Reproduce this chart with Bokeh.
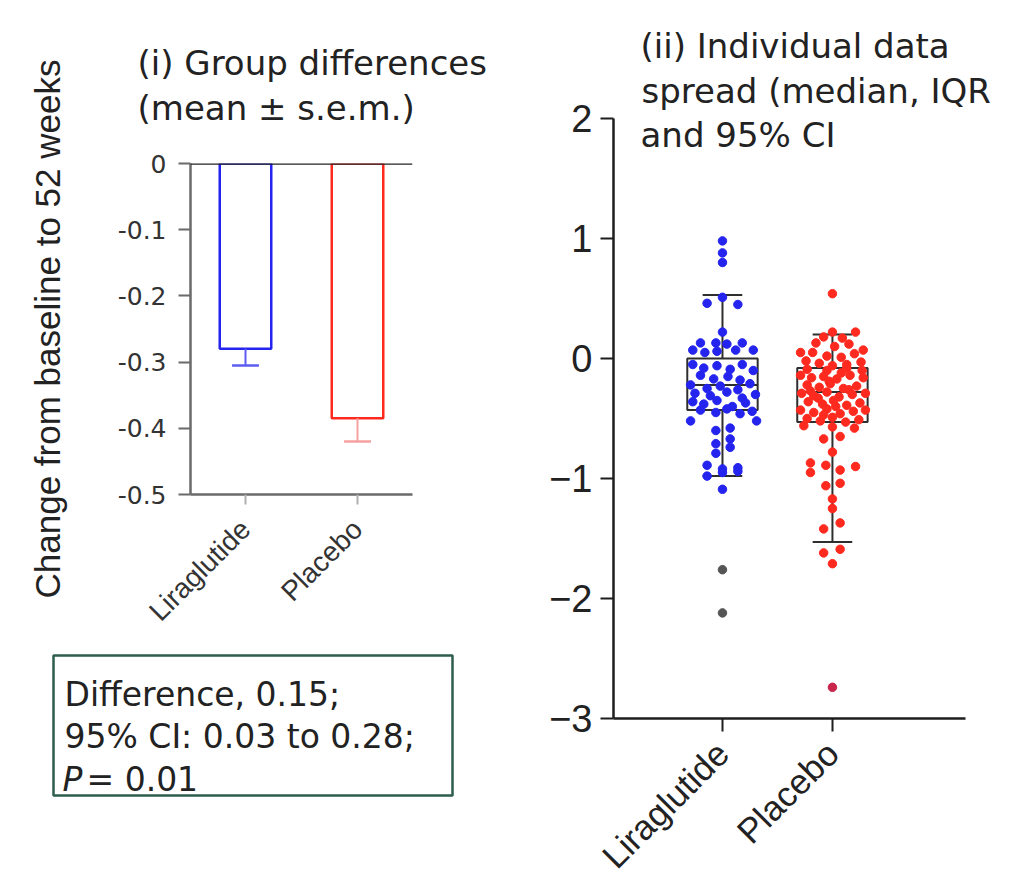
import math
from bokeh.plotting import figure
from bokeh.models import Range1d, FixedTicker, Label, BoxAnnotation, Span, Title
from bokeh.layouts import row, column
from bokeh.embed import file_html
from bokeh.resources import INLINE

# ---------------- data ----------------
groups = ["Liraglutide", "Placebo"]
group_pos = [1, 2]

# panel (i): mean +/- s.e.m.
mean_change = [-0.28, -0.385]
sem_change = [0.025, 0.035]
left_yticks = [0, -0.1, -0.2, -0.3, -0.4, -0.5]
left_ytick_labels = ["0", "-0.1", "-0.2", "-0.3", "-0.4", "-0.5"]

# panel (ii): individual values (value, horizontal jitter in category units)
lira_values = [0.98, 0.88, 0.80, 0.51, 0.46, 0.45, 0.22,
               0.13, 0.13, 0.12, 0.13, 0.07, 0.05, 0.06, 0.07, 0.07,
               -0.05, -0.08, -0.06, -0.09, -0.05, -0.10,
               -0.14, -0.17, -0.15, -0.18,
               -0.22, -0.25, -0.23, -0.26, -0.21,
               -0.29, -0.31, -0.28, -0.33, -0.30,
               -0.36, -0.38, -0.35, -0.40, -0.37,
               -0.43, -0.45, -0.42, -0.46, -0.44,
               -0.52, -0.52, -0.60, -0.58, -0.67, -0.71, -0.74, -0.79,
               -0.89, -0.92, -0.91, -0.98, -0.95, -0.94, -1.09]
lira_jitter = [0.0, 0.0, 0.0, 0.0, -0.14, 0.14, 0.0,
               -0.20, -0.06, 0.04, 0.18, -0.27, -0.16, -0.05, 0.12, 0.28,
               -0.27, -0.17, -0.05, 0.07, 0.18, 0.28,
               -0.20, -0.08, 0.05, 0.16,
               -0.29, -0.14, -0.02, 0.14, 0.25,
               -0.25, -0.11, 0.04, 0.18, 0.30,
               -0.27, -0.17, -0.05, 0.09, 0.21,
               -0.20, -0.06, 0.04, 0.16, 0.27,
               -0.29, 0.31, -0.06, 0.07, 0.07, -0.06, 0.07, -0.06,
               -0.14, 0.0, 0.14, -0.14, 0.0, 0.14, 0.0]
lira_outliers = [-1.76, -2.12]

placebo_values = [0.54,
                  0.22, 0.22, 0.18, 0.17, 0.13, 0.12, 0.10, 0.07, 0.05, 0.05, 0.04,
                  0.02, 0.01, -0.02, -0.03, -0.04, -0.05, -0.06,
                  -0.09, -0.10, -0.08, -0.10,
                  -0.14, -0.16, -0.15, -0.17, -0.14, -0.16,
                  -0.22, -0.24, -0.21, -0.25, -0.23,
                  -0.29, -0.31, -0.28, -0.32, -0.30, -0.29,
                  -0.36, -0.38, -0.35, -0.39, -0.37,
                  -0.43, -0.45, -0.42, -0.46, -0.44, -0.43,
                  -0.50, -0.52, -0.49, -0.53, -0.51,
                  -0.19, -0.26, -0.33, -0.40, -0.47, -0.12, -0.27,
                  -0.56, -0.57, -0.58, -0.67, -0.65, -0.78,
                  -0.87, -0.89, -0.90, -0.93, -0.95, -1.06, -1.04,
                  -1.17, -1.25, -1.37, -1.42, -1.62, -1.59, -1.71]
placebo_jitter = [0.0,
                  0.0, 0.21, -0.08, 0.09, -0.15, 0.15, 0.02, 0.28, -0.29, -0.18, 0.20,
                  -0.05, 0.08, -0.24, 0.26, -0.12, 0.13, 0.0,
                  -0.23, -0.05, 0.13, 0.27,
                  -0.29, -0.19, -0.08, 0.04, 0.16, 0.28,
                  -0.23, -0.12, -0.02, 0.10, 0.22,
                  -0.28, -0.17, -0.05, 0.06, 0.18, 0.30,
                  -0.22, -0.09, 0.01, 0.13, 0.25,
                  -0.29, -0.17, -0.05, 0.07, 0.19, 0.30,
                  -0.23, -0.11, 0.0, 0.12, 0.24,
                  -0.03, 0.15, -0.13, 0.03, -0.08, 0.08, -0.20,
                  -0.26, 0.0, 0.20, -0.08, 0.07, 0.0,
                  -0.20, -0.06, 0.21, 0.07, -0.20, -0.06, 0.07,
                  0.0, 0.0, 0.07, -0.08, -0.08, 0.07, 0.0]
placebo_outliers = [-2.74]

box_q1 = [-0.43, -0.53]
box_median = [-0.22, -0.28]
box_q3 = [0.0, -0.08]
whisker_low = [-0.98, -1.53]
whisker_high = [0.53, 0.20]
right_yticks = [-3, -2, -1, 0, 1, 2]
right_ytick_labels = ["\u22123", "\u22122", "\u22121", "0", "1", "2"]

BLUE = "#2424ee"
RED = "#ff2a1f"
TXT = "#222222"
TITLE_FONT = "DejaVu Sans"


def style_fig(p):
    p.background_fill_color = "white"
    p.border_fill_color = "white"
    p.outline_line_color = None
    p.grid.visible = False


def add_label(p, x, y, text, size, font=TITLE_FONT, align="left",
              baseline="alphabetic", angle=0.0, style="normal", color=TXT):
    p.add_layout(Label(x=x, y=y, text=text, text_font=font,
                       text_font_size=f"{size}px", text_align=align,
                       text_baseline=baseline, angle=angle,
                       text_font_style=style, text_color=color))


# ---------------- panel (i): bar chart ----------------
W1, H1 = 520, 640
L1, R1, T1, B1 = 190, 412, 163, 498

p1 = figure(width=W1, height=H1, x_range=Range1d(0.509, 2.491), y_range=Range1d(-0.5, 0.0),
            output_backend="svg", toolbar_location=None, frame_align=False,
            min_border_left=L1, min_border_right=W1 - R1,
            min_border_top=T1, min_border_bottom=H1 - B1)
style_fig(p1)

bar_cols = [BLUE, RED]
err_cols = ["#5c5cf2", "#f6a0a0"]
p1.vbar(x=group_pos, top=[0, 0], bottom=mean_change, width=0.46,
        fill_color=None, line_color=bar_cols, line_width=2.5)
err_lo = [m - s for m, s in zip(mean_change, sem_change)]
p1.segment(x0=group_pos, y0=mean_change, x1=group_pos, y1=err_lo,
           line_color=err_cols, line_width=2)
p1.segment(x0=[g - 0.12 for g in group_pos], y0=err_lo,
           x1=[g + 0.12 for g in group_pos], y1=err_lo,
           line_color=err_cols, line_width=2.5)
p1.add_layout(Span(location=0, dimension="width", line_color="#222222", line_width=2.5))

for ax in (p1.xaxis[0], p1.yaxis[0]):
    ax.axis_line_color = "#6a6a6a"
    ax.axis_line_width = 2.5
    ax.major_tick_line_color = "#6a6a6a"
    ax.major_tick_line_width = 2
    ax.minor_tick_line_color = None
    ax.major_tick_in = 0
    ax.major_label_text_color = "#333333"

p1.yaxis.ticker = FixedTicker(ticks=left_yticks)
p1.yaxis.major_label_overrides = dict(zip(left_yticks, left_ytick_labels))
p1.yaxis.major_tick_out = 12
p1.yaxis.major_label_standoff = 12
p1.yaxis.major_label_text_font = "DejaVu Sans"
p1.yaxis.major_label_text_font_size = "25px"
p1.yaxis.axis_label = "Change from baseline to 52 weeks"
p1.yaxis.axis_label_text_font = "Liberation Sans"
p1.yaxis.axis_label_text_font_size = "35px"
p1.yaxis.axis_label_text_font_style = "normal"
p1.yaxis.axis_label_text_color = TXT
p1.yaxis.axis_label_standoff = 48

p1.xaxis.ticker = FixedTicker(ticks=group_pos)
p1.xaxis.major_label_overrides = dict(zip(group_pos, groups))
p1.xaxis.major_label_orientation = math.pi / 4
p1.xaxis.major_tick_out = 10
p1.xaxis.major_tick_line_color = "#b0b0b0"
p1.xaxis.major_label_standoff = 20
p1.xaxis.major_label_text_font = "Liberation Sans"
p1.xaxis.major_label_text_font_size = "28px"

# panel title (two lines)
p1.add_layout(Title(text="(i) Group differences\n(mean \u00b1 s.e.m.)", align="left",
                    offset=-53, standoff=70, text_line_height=1.13,
                    text_font=TITLE_FONT, text_font_size="34px",
                    text_font_style="normal", text_color=TXT), "above")

# ---------------- statistics box (text area below panel i) ----------------
W3, H3 = 520, 256
TOP3 = 640
pt = figure(width=W3, height=H3, x_range=Range1d(0, W3), y_range=Range1d(TOP3 + H3, TOP3),
            output_backend="svg", toolbar_location=None, frame_align=False,
            x_axis_location=None, y_axis_location=None,
            min_border_left=0, min_border_right=0, min_border_top=0, min_border_bottom=0)
style_fig(pt)
pt.add_layout(BoxAnnotation(left=53, right=452, top=655, bottom=795,
                            fill_color=None, fill_alpha=0, line_color="#2e5c4d",
                            line_alpha=1.0, line_width=2.5))
add_label(pt, 64, 694, "Difference, 0.15;", 33)
add_label(pt, 64, 736, "95% CI: 0.03 to 0.28;", 33)
add_label(pt, 62, 779, "P", 33, style="italic")
add_label(pt, 86, 779, "= 0.01", 33)

# ---------------- panel (ii): individual data ----------------
W2, H2 = 492, 896
OFF = 520
L2 = 613 - OFF
B2 = 718                         # page y of frame bottom (value -3)
ppx = (965 - 613) / 3.201
ppy = 120.0
x2r = (0.009, 0.009 + (W2 - L2) / ppx)
y2r = (-3.0, -3.0 + B2 / ppy)

p2 = figure(width=W2, height=H2, x_range=Range1d(*x2r), y_range=Range1d(*y2r),
            output_backend="svg", toolbar_location=None, frame_align=False,
            min_border_left=L2, min_border_right=0,
            min_border_top=0, min_border_bottom=H2 - B2)
style_fig(p2)


def px2(x):
    return x2r[0] + (x - 613) / ppx


def py2(y):
    return -3.0 + (B2 - y) / ppy


BOXC = "#2e2e2e"
hw = 0.32
cw = 0.18
p2.quad(left=[g - hw for g in group_pos], right=[g + hw for g in group_pos],
        top=box_q3, bottom=box_q1, fill_color=None, line_color=BOXC, line_width=2)
p2.segment(x0=[g - hw for g in group_pos], x1=[g + hw for g in group_pos],
           y0=box_median, y1=box_median, line_color=BOXC, line_width=2)
p2.segment(x0=group_pos, x1=group_pos, y0=box_q3, y1=whisker_high,
           line_color=BOXC, line_width=2)
p2.segment(x0=group_pos, x1=group_pos, y0=box_q1, y1=whisker_low,
           line_color=BOXC, line_width=2)
p2.segment(x0=[g - cw for g in group_pos], x1=[g + cw for g in group_pos],
           y0=whisker_high, y1=whisker_high, line_color=BOXC, line_width=2)
p2.segment(x0=[g - cw for g in group_pos], x1=[g + cw for g in group_pos],
           y0=whisker_low, y1=whisker_low, line_color=BOXC, line_width=2)

p2.scatter(x=[group_pos[0] + d for d in lira_jitter], y=lira_values,
           size=8.5, marker="circle", fill_color=BLUE, line_color=BLUE)
p2.scatter(x=[group_pos[1] + d for d in placebo_jitter], y=placebo_values,
           size=8.5, marker="circle", fill_color=RED, line_color=RED)
p2.scatter(x=[group_pos[0]] * len(lira_outliers), y=lira_outliers,
           size=8.5, marker="circle", fill_color="#555555", line_color="#555555")
p2.scatter(x=[group_pos[1]] * len(placebo_outliers), y=placebo_outliers,
           size=8.5, marker="circle", fill_color="#c8244c", line_color="#c8244c")

for ax in (p2.xaxis[0], p2.yaxis[0]):
    ax.axis_line_color = "#1e1e1e"
    ax.axis_line_width = 2.5
    ax.major_tick_line_color = "#1e1e1e"
    ax.major_tick_line_width = 2
    ax.minor_tick_line_color = None
    ax.major_tick_in = 0
    ax.major_tick_out = 13
    ax.major_label_text_color = TXT
    ax.major_label_text_font = "Liberation Sans"

p2.yaxis.ticker = FixedTicker(ticks=right_yticks)
p2.yaxis.bounds = (-3, 2)
p2.yaxis.major_label_overrides = dict(zip(right_yticks, right_ytick_labels))
p2.yaxis.major_label_standoff = 8
p2.yaxis.major_label_text_font_size = "38px"

p2.xaxis.ticker = FixedTicker(ticks=group_pos)
p2.xaxis.bounds = (0.009, 3.21)
p2.xaxis.major_label_overrides = dict(zip(group_pos, groups))
p2.xaxis.major_label_orientation = math.pi / 4
p2.xaxis.major_label_standoff = 16
p2.xaxis.major_label_text_font_size = "35px"

add_label(p2, px2(640), py2(45), "(ii) Individual data", 34)
add_label(p2, px2(641), py2(90), "spread (median, IQR", 34)
add_label(p2, px2(640), py2(134), "and 95% CI", 34)

layout = row(column(p1, pt), p2)
open("out.html", "w").write(file_html(layout, INLINE))
